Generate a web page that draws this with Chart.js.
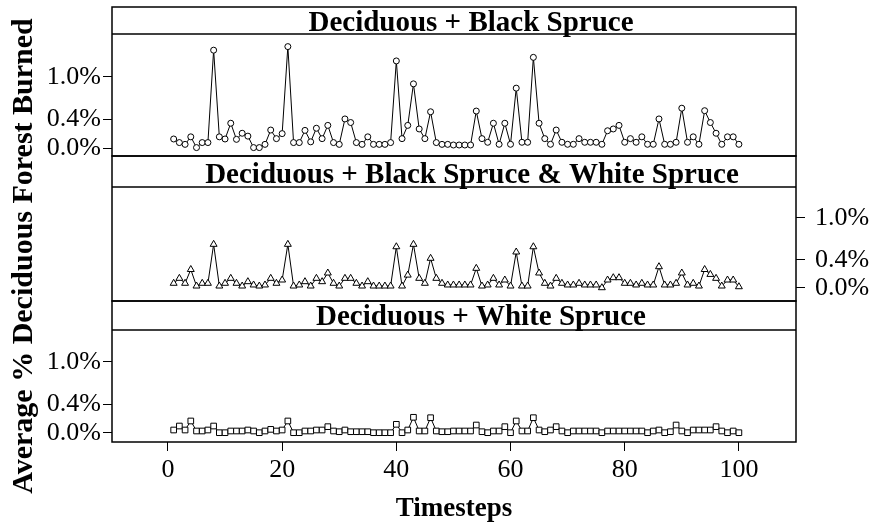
<!DOCTYPE html>
<html>
<head>
<meta charset="utf-8">
<script src="https://cdn.jsdelivr.net/npm/chart.js@4/dist/chart.umd.min.js"></script>
<style>
  html, body { margin: 0; padding: 0; background: #fff; }
  #wrap { position: relative; width: 878px; height: 530px; }
  #wrap canvas { position: absolute; left: 0; top: 0; }
</style>
</head>
<body>
<div id="wrap">
  <canvas id="panel1" width="878" height="530"></canvas>
  <canvas id="panel2" width="878" height="530"></canvas>
  <canvas id="panel3" width="878" height="530"></canvas>
</div>
<script>
const timesteps = [1,2,3,4,5,6,7,8,9,10,11,12,13,14,15,16,17,18,19,20,
  21,22,23,24,25,26,27,28,29,30,31,32,33,34,35,36,37,38,39,40,
  41,42,43,44,45,46,47,48,49,50,51,52,53,54,55,56,57,58,59,60,
  61,62,63,64,65,66,67,68,69,70,71,72,73,74,75,76,77,78,79,80,
  81,82,83,84,85,86,87,88,89,90,91,92,93,94,95,96,97,98,99,100];

// average % deciduous forest burned, per timestep
const blackSpruce = [0.13,0.08,0.055,0.16,0.01,0.08,0.08,1.37,0.16,0.13,
  0.35,0.125,0.21,0.17,0.01,0.01,0.055,0.255,0.135,0.205,
  1.42,0.08,0.08,0.25,0.09,0.28,0.135,0.32,0.08,0.055,
  0.41,0.36,0.08,0.055,0.16,0.055,0.055,0.055,0.08,1.22,
  0.135,0.32,0.90,0.27,0.135,0.51,0.08,0.055,0.055,0.046,
  0.046,0.046,0.046,0.52,0.135,0.084,0.35,0.056,0.35,0.056,
  0.84,0.084,0.084,1.27,0.35,0.135,0.056,0.255,0.084,0.056,
  0.056,0.135,0.084,0.084,0.084,0.056,0.245,0.27,0.32,0.084,
  0.135,0.084,0.16,0.056,0.056,0.41,0.056,0.056,0.084,0.56,
  0.084,0.16,0.056,0.525,0.36,0.21,0.056,0.16,0.16,0.056];

const mixedSpruce = [0.063,0.134,0.063,0.26,0.024,0.063,0.063,0.62,0.024,0.063,
  0.134,0.063,0.024,0.086,0.039,0.024,0.039,0.134,0.063,0.11,
  0.62,0.024,0.039,0.086,0.024,0.134,0.086,0.21,0.063,0.024,
  0.134,0.134,0.063,0.024,0.086,0.024,0.024,0.024,0.024,0.585,
  0.024,0.18,0.62,0.134,0.063,0.42,0.134,0.063,0.039,0.039,
  0.039,0.039,0.039,0.277,0.024,0.039,0.134,0.039,0.11,0.024,
  0.51,0.024,0.024,0.585,0.21,0.063,0.024,0.134,0.063,0.039,
  0.039,0.063,0.039,0.039,0.039,0,0.11,0.143,0.143,0.063,
  0.063,0.039,0.063,0.039,0.039,0.3,0.039,0.039,0.063,0.21,
  0.039,0.063,0.024,0.26,0.19,0.134,0.024,0.11,0.11,0.014];

const whiteSpruce = [0.038,0.094,0.038,0.165,0.024,0.024,0.038,0.094,0,0,
  0.024,0.024,0.024,0.038,0.024,0,0.024,0.047,0.024,0.038,
  0.165,0,0,0.024,0.024,0.038,0.038,0.085,0.024,0.014,
  0.038,0.014,0.014,0.014,0.014,0,0,0,0,0.118,
  0,0.038,0.217,0.024,0.024,0.211,0.024,0.014,0.014,0.024,
  0.024,0.024,0.024,0.108,0.014,0,0.024,0.024,0.085,0,
  0.165,0.024,0.024,0.211,0.038,0.014,0.038,0.085,0.024,0,
  0.024,0.024,0.024,0.024,0.024,0,0.024,0.024,0.024,0.024,
  0.024,0.024,0.024,0,0.024,0.038,0,0.014,0.108,0.024,
  0,0.038,0.038,0.038,0.038,0.085,0.024,0,0.024,0];

const panelTitles = ['Deciduous + Black Spruce', 'Deciduous + Black Spruce & White Spruce', 'Deciduous + White Spruce'];
const yTicks = [0, 0.4, 1.0];
const xTicks = [0, 20, 40, 60, 80, 100];
const yTitle = 'Average % Deciduous Forest Burned';
const xTitle = 'Timesteps';

const SERIF = '"Liberation Serif", "DejaVu Serif", serif';
const W = 878, H = 530;
const LEFT = 112, RIGHT = 796;

// strip + plot box of each panel, in page pixels
const layout = [
  { stripTop: 7,   plotTop: 34,  plotBottom: 156, yMin: -0.1075, yMax: 1.596, side: 'left',  titleX: 471, titleBase: 31 },
  { stripTop: 156, plotTop: 187, plotBottom: 301, yMin: -0.19,   yMax: 1.439, side: 'right', titleX: 472, titleBase: 183 },
  { stripTop: 301, plotTop: 330, plotBottom: 442, yMin: -0.131,  yMax: 1.4465, side: 'left', titleX: 481, titleBase: 325 }
];

const framePlugin = {
  id: 'frame',
  afterDraw(chart, args, opts) {
    const { ctx, chartArea: a } = chart;
    ctx.save();
    ctx.strokeStyle = '#000';
    ctx.lineWidth = 1.5;
    ctx.strokeRect(a.left, opts.stripTop, a.right - a.left, a.bottom - opts.stripTop);
    ctx.beginPath();
    ctx.moveTo(a.left, a.top);
    ctx.lineTo(a.right, a.top);
    ctx.stroke();
    ctx.fillStyle = '#000';
    ctx.font = 'bold 29px ' + SERIF;
    ctx.textAlign = 'center';
    ctx.textBaseline = 'alphabetic';
    ctx.fillText(opts.title, opts.titleX, opts.titleBase);
    if (opts.yTitle) {
      ctx.font = 'bold 30px ' + SERIF;
      ctx.translate(32, 256);
      ctx.rotate(-Math.PI / 2);
      ctx.fillText(opts.yTitle, 0, 0);
    }
    ctx.restore();
  }
};

function makePanel(id, n, values, marker, radius) {
  const box = layout[n];
  const showX = n === 2;
  const left = box.side === 'left';
  new Chart(document.getElementById(id), {
    type: 'line',
    data: {
      datasets: [{
        data: timesteps.map((t, i) => ({ x: t, y: values[i] })),
        borderColor: '#000',
        borderWidth: 1,
        tension: 0,
        pointStyle: marker,
        pointRadius: radius,
        pointBackgroundColor: '#fff',
        pointBorderColor: '#000',
        pointBorderWidth: 1
      }]
    },
    options: {
      responsive: false,
      animation: false,
      events: [],
      layout: {
        padding: {
          top: box.plotTop,
          bottom: showX ? 0 : H - box.plotBottom,
          left: left ? 0 : LEFT,
          right: left ? W - RIGHT : 0
        }
      },
      plugins: {
        legend: { display: false },
        tooltip: { enabled: false },
        frame: {
          stripTop: box.stripTop,
          title: panelTitles[n],
          titleX: box.titleX,
          titleBase: box.titleBase,
          yTitle: n === 0 ? yTitle : null
        }
      },
      scales: {
        x: {
          type: 'linear',
          min: -9.8,
          max: 110,
          bounds: 'data',
          display: showX,
          afterBuildTicks: s => { s.ticks = xTicks.map(v => ({ value: v })); },
          afterFit: s => { if (showX) s.height = H - box.plotBottom; },
          grid: { drawOnChartArea: false, drawTicks: true, tickLength: 9, color: '#000', lineWidth: 1 },
          border: { display: false },
          ticks: { color: '#000', padding: 4, maxRotation: 0, font: { family: SERIF, size: 26 } },
          title: { display: true, text: xTitle, color: '#000', padding: { top: 0, bottom: 5 }, font: { family: SERIF, size: 27, weight: 'bold' } }
        },
        y: {
          type: 'linear',
          position: box.side,
          min: box.yMin,
          max: box.yMax,
          bounds: 'data',
          afterBuildTicks: s => { s.ticks = yTicks.map(v => ({ value: v })); },
          afterFit: s => { s.width = left ? LEFT : W - RIGHT; },
          grid: { drawOnChartArea: false, drawTicks: true, tickLength: 9, color: '#000', lineWidth: 1 },
          border: { display: false },
          ticks: {
            color: '#000',
            padding: left ? 2 : 10,
            font: { family: SERIF, size: 26 },
            callback: v => v.toFixed(1) + '%'
          }
        }
      }
    },
    plugins: [framePlugin]
  });
}

makePanel('panel1', 0, blackSpruce, 'circle', 3);
makePanel('panel2', 1, mixedSpruce, 'triangle', 4);
makePanel('panel3', 2, whiteSpruce, 'rect', 4);
</script>
</body>
</html>
